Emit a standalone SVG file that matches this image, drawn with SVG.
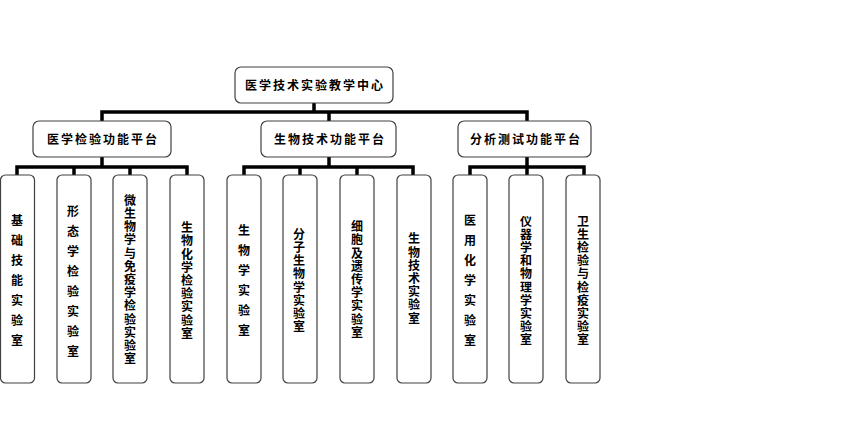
<svg xmlns="http://www.w3.org/2000/svg" width="855" height="425" viewBox="0 0 855 425">
<style>
.box{fill:#fff;stroke:#404040;stroke-width:1.2}
.con{fill:none;stroke:#000;stroke-width:3.5;stroke-linecap:square}
text{font-family:"Noto Sans CJK SC","Noto Sans",sans-serif;font-size:12px;font-weight:bold;fill:#000}
.h{text-anchor:middle;letter-spacing:2px}
.v{writing-mode:vertical-rl;text-anchor:middle}
.w{letter-spacing:8px}
.t{letter-spacing:1.2px}
</style>
<rect width="855" height="425" fill="#fff"/>
<g id="connectors">
<path class="con" d="M314 103V112M102 112H527M102 112V121M329 112V121M527 112V121"/>
<path class="con" d="M102 157V167M17 167H187M17 167V175M74 167V175M130 167V175M187 167V175"/>
<path class="con" d="M329 157V167M244 167H413M244 167V175M300 167V175M357 167V175M413 167V175"/>
<path class="con" d="M527 157V167M470 167H584M470 167V175M527 167V175M584 167V175"/>
</g>
<g id="root"><rect class="box" x="235" y="67" width="158" height="36" rx="6"/><text class="h" x="315" y="90">医学技术实验教学中心</text></g>
<g id="p1"><rect class="box" x="33" y="121" width="138" height="36" rx="6"/><text class="h" x="103" y="144">医学检验功能平台</text></g>
<g id="p2"><rect class="box" x="261" y="121" width="135" height="36" rx="6"/><text class="h" x="330" y="144">生物技术功能平台</text></g>
<g id="p3"><rect class="box" x="458" y="121" width="133" height="36" rx="6"/><text class="h" x="526" y="144">分析测试功能平台</text></g>
<g id="l1"><rect class="box" x="0.5" y="175" width="34" height="208" rx="5"/><text class="v w" x="17" y="284">基础技能实验室</text></g>
<g id="l2"><rect class="box" x="57" y="175" width="34" height="208" rx="5"/><text class="v w" x="73" y="285">形态学检验实验室</text></g>
<g id="l3"><rect class="box" x="113" y="175" width="34" height="208" rx="5"/><text class="v t" x="130" y="280">微生物学与免疫学检验实验室</text></g>
<g id="l4"><rect class="box" x="170" y="175" width="34" height="208" rx="5"/><text class="v t" x="187" y="281">生物化学检验实验室</text></g>
<g id="l5"><rect class="box" x="227" y="175" width="34" height="208" rx="5"/><text class="v w" x="244" y="284">生物学实验室</text></g>
<g id="l6"><rect class="box" x="283" y="175" width="34" height="208" rx="5"/><text class="v t" x="299" y="281">分子生物学实验室</text></g>
<g id="l7"><rect class="box" x="340" y="175" width="34" height="208" rx="5"/><text class="v t" x="357" y="280">细胞及遗传学实验室</text></g>
<g id="l8"><rect class="box" x="397" y="175" width="34" height="208" rx="5"/><text class="v t" x="414" y="279">生物技术实验室</text></g>
<g id="l9"><rect class="box" x="453" y="175" width="34" height="208" rx="5"/><text class="v w" x="470" y="284">医用化学实验室</text></g>
<g id="l10"><rect class="box" x="509" y="175" width="34" height="208" rx="5"/><text class="v t" x="526" y="281">仪器学和物理学实验室</text></g>
<g id="l11"><rect class="box" x="566" y="175" width="34" height="208" rx="5"/><text class="v t" x="583" y="281">卫生检验与检疫实验室</text></g>
</svg>
